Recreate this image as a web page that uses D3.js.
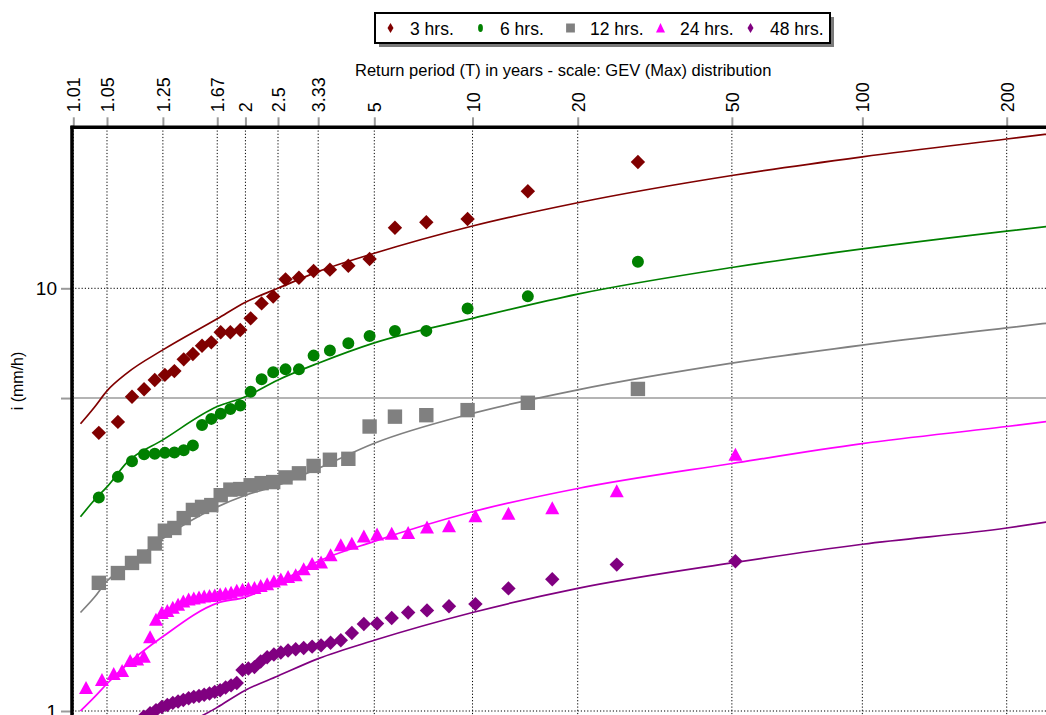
<!DOCTYPE html>
<html>
<head>
<meta charset="utf-8">
<script src="https://cdn.jsdelivr.net/npm/d3@7"></script>
<style>
  html, body { margin: 0; padding: 0; background: #ffffff; }
  svg { display: block; font-family: "Liberation Sans", Arial, sans-serif; }
</style>
</head>
<body>
<svg id="chart" width="1046" height="715"></svg>
<script>
// Intensity - return period plot, GEV (Max) probability scale on the x axis, log scale on the y axis.

const seriesNames = ["3 hrs.", "6 hrs.", "12 hrs.", "24 hrs.", "48 hrs."];

// Return-period tick marks along the top axis
const returnPeriodTicks = [1.01, 1.05, 1.25, 1.67, 2, 2.5, 3.33, 5, 10, 20, 50, 100, 200];
const returnPeriodTickLabels = ["1.01", "1.05", "1.25", "1.67", "2", "2.5", "3.33", "5", "10", "20", "50", "100", "200"];

// Intensity ticks (mm/h)
const intensityTicks = [1, 10];
const intensityTickLabels = ["1", "10"];
const referenceIntensity = 5.5;

// Plotting positions (years) of the ranked observations: 28-year and 50-year records
const returnPeriods28 = [29, 14.5, 9.667, 7.25, 5.8, 4.833, 4.143, 3.625, 3.222, 2.9, 2.636, 2.417, 2.231, 2.071,
  1.933, 1.813, 1.706, 1.611, 1.526, 1.45, 1.381, 1.318, 1.261, 1.208, 1.16, 1.115, 1.074, 1.036];
const returnPeriods50 = [51, 25.5, 17, 12.75, 10.2, 8.5, 7.286, 6.375, 5.667, 5.1, 4.636, 4.25, 3.923, 3.643, 3.4,
  3.188, 3, 2.833, 2.684, 2.55, 2.429, 2.318, 2.217, 2.125, 2.04, 1.962, 1.889, 1.821, 1.759, 1.7, 1.645, 1.594,
  1.545, 1.5, 1.457, 1.417, 1.378, 1.342, 1.308, 1.275, 1.244, 1.214, 1.186, 1.159, 1.133, 1.109, 1.085, 1.064,
  1.041, 1.02];

// Observed maximum intensities (mm/h), ranked from largest to smallest
const observed3h = [19.9, 16.96, 14.59, 14.33, 13.91, 11.73, 11.31, 11.07, 10.99, 10.59, 10.5, 9.56, 9.21, 8.49,
  7.97, 7.87, 7.87, 7.45, 7.31, 6.99, 6.79, 6.37, 6.24, 6.07, 5.77, 5.54, 4.83, 4.55];
const observed6h = [11.56, 9.57, 8.96, 7.93, 7.92, 7.71, 7.41, 7.13, 6.93, 6.43, 6.43, 6.33, 6.09, 5.69, 5.28,
  5.18, 5.05, 4.91, 4.75, 4.25, 4.14, 4.09, 4.08, 4.06, 4.05, 3.9, 3.58, 3.2];
const observed12h = [5.78, 5.36, 5.15, 5.01, 4.97, 4.71, 3.95, 3.93, 3.8, 3.65, 3.57, 3.48, 3.46, 3.42, 3.35,
  3.34, 3.24, 3.07, 3.04, 2.99, 2.86, 2.71, 2.67, 2.49, 2.32, 2.24, 2.12, 2.01];
const observed24h = [4.03, 3.3, 3.01, 2.92, 2.88, 2.73, 2.71, 2.63, 2.62, 2.61, 2.58, 2.48, 2.46, 2.33, 2.24,
  2.22, 2.16, 2.09, 2.07, 2.04, 2.02, 1.99, 1.97, 1.95, 1.94, 1.93, 1.92, 1.9, 1.89, 1.88, 1.87, 1.866, 1.86,
  1.85, 1.84, 1.83, 1.81, 1.78, 1.75, 1.72, 1.7, 1.64, 1.49, 1.34, 1.32, 1.31, 1.24, 1.22, 1.18, 1.13];
const observed48h = [2.26, 2.22, 2.05, 1.95, 1.79, 1.77, 1.73, 1.71, 1.66, 1.61, 1.606, 1.53, 1.47, 1.45, 1.43,
  1.42, 1.41, 1.4, 1.39, 1.375, 1.36, 1.34, 1.31, 1.27, 1.26, 1.25, 1.165, 1.15, 1.137, 1.12, 1.11, 1.1, 1.093,
  1.085, 1.08, 1.072, 1.062, 1.053, 1.045, 1.033, 1.022, 1.005, 0.988, 0.97];

// Fitted GEV curves, intensity (mm/h) at the listed return periods
const fitReturnPeriods = [1.015, 1.03, 1.05, 1.1, 1.25, 1.67, 2, 2.5, 3.33, 5, 10, 20, 50, 100, 200, 250];
const fitted3h  = [4.78, 5.24, 5.72, 6.31, 7.15, 8.47, 9.27, 10.0, 10.95, 12.1, 14.04, 15.94, 18.49, 20.47, 22.55, 23.3];
const fitted6h  = [2.88, 3.16, 3.39, 3.88, 4.38, 5.25, 5.54, 6.07, 6.65, 7.43, 8.49, 9.69, 11.2, 12.39, 13.65, 14.08];
const fitted12h = [1.71, 1.86, 2.03, 2.2, 2.56, 3.04, 3.24, 3.42, 3.75, 4.3, 5.06, 5.75, 6.65, 7.34, 8.06, 8.32];
const fitted24h = [1.0, 1.08, 1.16, 1.29, 1.5, 1.8, 1.86, 2.01, 2.26, 2.52, 2.96, 3.36, 3.85, 4.29, 4.71, 4.87];
const fitted48h = [0.55, 0.58, 0.64, 0.72, 0.86, 1.02, 1.12, 1.21, 1.33, 1.47, 1.71, 1.95, 2.24, 2.48, 2.71, 2.82];

const seriesColors = ["#800000", "#008000", "#808080", "#ff00ff", "#800080"];
const markerKinds = ["diamond", "circle", "square", "triangle", "diamond"];

const series = [
  { name: seriesNames[0], T: returnPeriods28, obs: observed3h, fit: fitted3h },
  { name: seriesNames[1], T: returnPeriods28, obs: observed6h, fit: fitted6h },
  { name: seriesNames[2], T: returnPeriods28, obs: observed12h, fit: fitted12h },
  { name: seriesNames[3], T: returnPeriods50, obs: observed24h, fit: fitted24h },
  { name: seriesNames[4], T: returnPeriods50, obs: observed48h, fit: fitted48h }
];

// GEV reduced variate used for the probability axis
const SHAPE = 0.15;
function gevVariate(T) {
  const g = -Math.log(-Math.log(1 - 1 / T));
  return (Math.exp(SHAPE * g) - 1) / SHAPE;
}

const W = 1046, H = 715;
const plotLeft = 72, plotTop = 127.3;

const x = d3.scaleLinear()
  .domain([gevVariate(1.01), gevVariate(200)])
  .range([73.3, 1006.7]);
const y = d3.scaleLog()
  .domain([1, 10])
  .range([711, 288.3]);

const px = T => x(gevVariate(T));

const svg = d3.select("#chart");
svg.append("rect").attr("width", W).attr("height", H).attr("fill", "#ffffff");

svg.append("defs").append("clipPath").attr("id", "plotClip")
  .append("rect").attr("x", plotLeft).attr("y", plotTop).attr("width", W - plotLeft + 20).attr("height", H - plotTop + 20);

// Grid
const grid = svg.append("g").attr("clip-path", "url(#plotClip)");
grid.selectAll("line.vgrid").data(returnPeriodTicks).enter().append("line")
  .attr("class", "vgrid")
  .attr("x1", d => px(d)).attr("x2", d => px(d))
  .attr("y1", plotTop).attr("y2", H + 10)
  .attr("stroke", "#000").attr("stroke-width", 1).attr("stroke-dasharray", "1.2,2");
grid.selectAll("line.hgrid").data(intensityTicks).enter().append("line")
  .attr("class", "hgrid")
  .attr("x1", plotLeft).attr("x2", W + 10)
  .attr("y1", d => y(d)).attr("y2", d => y(d))
  .attr("stroke", "#000").attr("stroke-width", 1).attr("stroke-dasharray", "1.2,2");
grid.append("line")
  .attr("x1", plotLeft).attr("x2", W + 10)
  .attr("y1", y(referenceIntensity)).attr("y2", y(referenceIntensity))
  .attr("stroke", "#b4b4b4").attr("stroke-width", 2);

// Marker shapes
function markerPath(kind) {
  if (kind === "diamond") return "M0,-7.2L7.2,0L0,7.2L-7.2,0Z";
  if (kind === "square") return "M-7.2,-7.2H7.2V7.2H-7.2Z";
  if (kind === "triangle") return "M0,-7.5L7,5.5H-7Z";
  return d3.symbol(d3.symbolCircle, 113)();
}

const plot = svg.append("g").attr("clip-path", "url(#plotClip)");
const line = d3.line().x(d => px(d[0])).y(d => y(d[1])).curve(d3.curveMonotoneX);

series.forEach((s, i) => {
  const fitPts = fitReturnPeriods.map((T, k) => [T, s.fit[k]]);
  plot.append("path")
    .attr("d", line(fitPts))
    .attr("fill", "none")
    .attr("stroke", seriesColors[i])
    .attr("stroke-width", 1.7);
});

series.forEach((s, i) => {
  const pts = s.obs.map((v, k) => [s.T[k], v]);
  plot.append("g").selectAll("path").data(pts).enter().append("path")
    .attr("d", markerPath(markerKinds[i]))
    .attr("transform", d => `translate(${px(d[0])},${y(d[1])})`)
    .attr("fill", seriesColors[i]);
});

// Top axis (return period)
const topAxis = d3.axisTop(x)
  .tickValues(returnPeriodTicks.map(gevVariate))
  .tickSize(9)
  .tickFormat((d, i) => returnPeriodTickLabels[i]);
const gTop = svg.append("g").attr("transform", `translate(0,${plotTop - 1})`).call(topAxis);
gTop.select(".domain").remove();
gTop.selectAll(".tick line").attr("stroke", "#9a9a9a").attr("stroke-width", 2);
gTop.selectAll(".tick text")
  .attr("transform", "rotate(-90)")
  .attr("x", 14).attr("y", 0).attr("dy", "0.36em")
  .attr("text-anchor", "start")
  .attr("fill", "#000")
  .style("font-size", "18px")
  .style("font-family", "'Liberation Sans', Arial, sans-serif");

// Left axis (intensity)
const leftAxis = d3.axisLeft(y)
  .tickValues(intensityTicks.concat([referenceIntensity]))
  .tickSize(10)
  .tickPadding(4)
  .tickFormat(d => {
    const k = intensityTicks.indexOf(d);
    return k >= 0 ? intensityTickLabels[k] : "";
  });
const gLeft = svg.append("g").attr("transform", `translate(${plotLeft - 1},0)`).call(leftAxis);
gLeft.select(".domain").remove();
gLeft.selectAll(".tick line").attr("stroke", "#9a9a9a").attr("stroke-width", 2);
gLeft.selectAll(".tick text")
  .attr("fill", "#000")
  .style("font-size", "19px")
  .style("font-family", "'Liberation Sans', Arial, sans-serif");

// Frame lines
svg.append("line").attr("x1", plotLeft - 1.5).attr("x2", W).attr("y1", plotTop).attr("y2", plotTop)
  .attr("stroke", "#000").attr("stroke-width", 3.5);
svg.append("line").attr("x1", plotLeft).attr("x2", plotLeft).attr("y1", plotTop - 1.5).attr("y2", H)
  .attr("stroke", "#000").attr("stroke-width", 3.5);

// Axis titles
svg.append("text")
  .attr("x", 355).attr("y", 76)
  .attr("fill", "#000")
  .style("font-size", "16.5px")
  .text("Return period (T) in years - scale: GEV (Max) distribution");

svg.append("text")
  .attr("transform", "translate(23,381) rotate(-90)")
  .attr("text-anchor", "middle")
  .attr("fill", "#000")
  .style("font-size", "16px")
  .text("i (mm/h)");

// Legend
const legend = svg.append("g");
legend.append("rect").attr("x", 379).attr("y", 17).attr("width", 455).attr("height", 30).attr("fill", "#7a7a7a");
legend.append("rect").attr("x", 375).attr("y", 13).attr("width", 455).attr("height", 30)
  .attr("fill", "#fff").attr("stroke", "#000").attr("stroke-width", 2);

function legendGlyph(kind) {
  if (kind === "diamond") return "M0,-5L3,0L0,5L-3,0Z";
  if (kind === "square") return "M-4.4,-4.5H4.4V4.5H-4.4Z";
  if (kind === "triangle") return "M0,-5L4.5,4.5H-4.5Z";
  return "M0,-4A2.4,4 0 1,1 0,4A2.4,4 0 1,1 0,-4Z";
}
seriesNames.forEach((name, i) => {
  const cx = 390.5 + i * 90;
  legend.append("path").attr("d", legendGlyph(markerKinds[i]))
    .attr("transform", `translate(${cx},28)`).attr("fill", seriesColors[i]);
  legend.append("text").attr("x", cx + 19.5).attr("y", 34.5)
    .attr("fill", "#000").style("font-size", "17.5px").text(name);
});
</script>
</body>
</html>
